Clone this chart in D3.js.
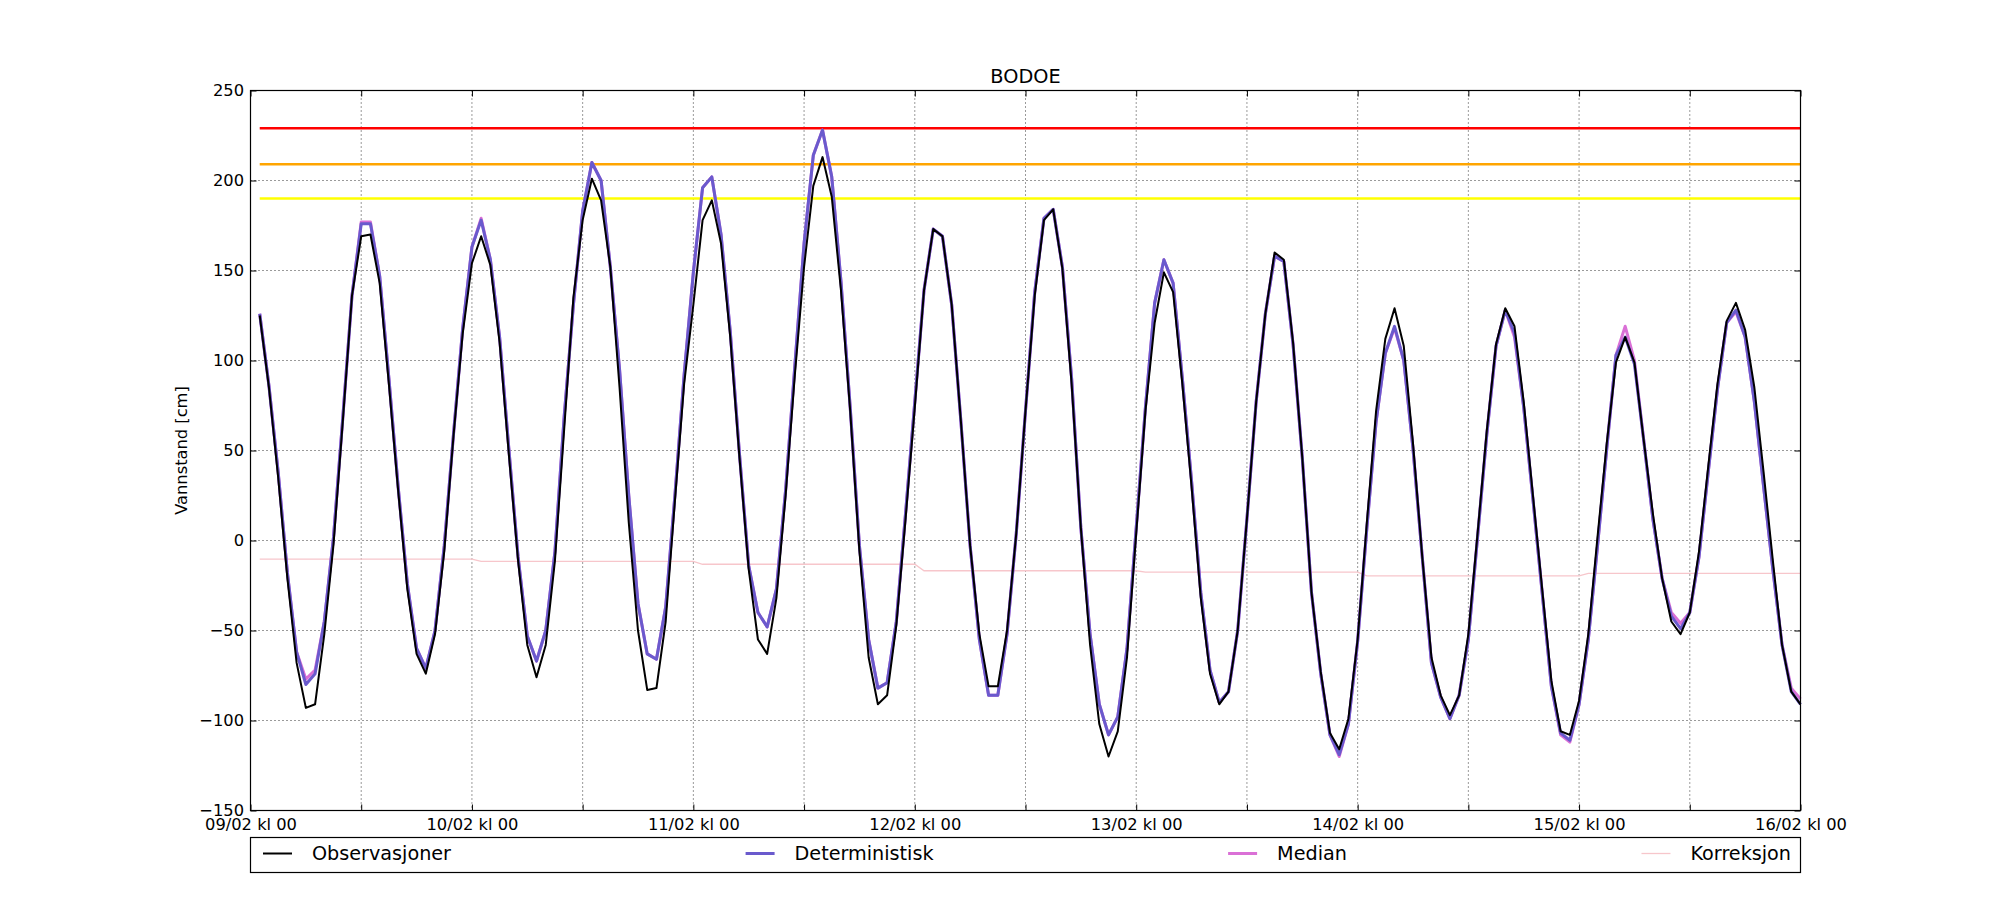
<!DOCTYPE html>
<html>
<head>
<meta charset="utf-8">
<title>BODOE</title>
<script src="https://d3js.org/d3.v7.min.js"></script>
<style>
body{margin:0;background:#fff;}
text{font-family:"DejaVu Sans",sans-serif;fill:#000;}
</style>
</head>
<body>
<svg id="chart" width="2000" height="900"></svg>
<script>

var stasjon = "BODOE";
var ytittel = "Vannstand [cm]";

// timer etter 09/02 kl 00, en verdi per time
var timer = d3.range(1, 169);
var dagLabels = ["09/02 kl 00","10/02 kl 00","11/02 kl 00","12/02 kl 00",
                 "13/02 kl 00","14/02 kl 00","15/02 kl 00","16/02 kl 00"];
var yTicks = [-150,-100,-50,0,50,100,150,200,250];

var observasjoner = [
	125,85,35,-21,-68,-93,-91,-52,-2,66,136,169,170,143,87,28,-27,-63,-74,-52,-6,58,115,154,
	169,153,110,48,-11,-58,-76,-58,-11,62,135,178,201,189,152,85,10,-50,-83,-82,-45,22,87,131,
	178,189,165,113,46,-16,-55,-63,-32,25,92,152,197,213,191,139,72,-6,-65,-91,-86,-47,12,74,
	139,173,169,131,66,-3,-52,-81,-81,-50,4,72,136,178,184,151,87,7,-58,-102,-120,-106,-65,4,
	72,121,149,138,87,30,-32,-74,-91,-84,-50,12,77,126,160,156,110,46,-29,-73,-107,-116,-99,-55,
	10,72,112,129,108,54,-9,-65,-86,-97,-86,-52,4,61,109,129,119,77,25,-27,-78,-106,-108,-89,
	-52,2,54,99,113,99,56,15,-21,-45,-52,-40,-6,41,87,122,132,117,85,38,-11,-58,-84,-91];

var deterministisk = [
	126,86,38,-18,-62,-80,-74,-45,2,68,136,176,176,147,90,30,-24,-60,-71,-50,-3,59,118,163,
	178,156,113,51,-9,-53,-67,-50,-6,69,131,183,210,200,152,95,25,-35,-63,-66,-37,25,92,149,
	196,202,170,116,48,-14,-40,-48,-27,28,97,165,214,228,202,144,74,-3,-55,-82,-79,-45,15,77,
	139,173,169,131,66,-3,-55,-86,-86,-52,4,72,138,179,184,152,90,7,-52,-91,-108,-98,-60,7,
	74,132,156,143,90,33,-29,-72,-90,-84,-50,12,77,126,158,155,109,46,-29,-74,-108,-119,-102,-56,
	7,66,104,119,100,51,-9,-68,-87,-99,-86,-55,2,59,108,128,115,74,23,-29,-81,-107,-111,-91,
	-55,-3,51,103,113,98,56,12,-21,-42,-49,-40,-9,38,84,121,128,113,77,30,-16,-58,-84,-91];

var median = [
	126,86,38,-18,-62,-77,-72,-45,2,68,136,177,177,147,90,30,-24,-60,-71,-50,-3,59,118,163,
	179,156,113,51,-9,-53,-67,-50,-6,69,131,183,210,200,152,95,25,-35,-63,-66,-37,25,92,149,
	196,202,170,116,48,-14,-40,-48,-27,28,97,165,214,228,202,144,74,-3,-55,-82,-79,-45,15,77,
	139,173,169,131,66,-3,-55,-86,-86,-52,4,72,138,179,184,152,90,7,-52,-91,-108,-98,-60,7,
	74,132,156,143,90,33,-29,-72,-90,-84,-50,12,77,126,158,155,109,46,-29,-74,-108,-120,-102,-56,
	7,66,104,118,100,51,-9,-68,-87,-99,-86,-55,2,59,108,128,113,74,23,-29,-81,-108,-112,-91,
	-55,-3,51,103,119,100,56,12,-21,-40,-46,-40,-9,38,84,121,127,113,77,30,-16,-58,-82,-88];

// korreksjon endres bare ved dagsskifte
var korrTimer = [1,24,25,48,49,72,73,96,97,120,121,144,145,168];
var korrVerdier = [-10.3,-10.3,-11.6,-11.6,-13.2,-13.2,-16.8,-16.8,-17.6,-17.6,-19.7,-19.7,-18.3,-18.3];

// varslingsnivaa
var terskler = [229, 209, 190];
var terskelFarger = ["#ff0000", "#ffa500", "#ffff00"];

var svg = d3.select("#chart");
var pLeft = 250.5, pRight = 1800.5, pTop = 90.5, pBottom = 810.5;

var x = d3.scaleLinear().domain([0, 168]).range([pLeft, pRight]);
var y = d3.scaleLinear().domain([-150, 250]).range([pBottom, pTop]);

// grid
var grid = svg.append("g").attr("stroke","#000").attr("stroke-width",0.8).attr("stroke-dasharray","1,3");
grid.selectAll("line.gx").data(d3.range(12, 168, 12)).enter().append("line")
	.attr("x1", function(d){ return x(d); }).attr("x2", function(d){ return x(d); })
	.attr("y1", pTop).attr("y2", pBottom);
grid.selectAll("line.gy").data(yTicks.slice(1, -1)).enter().append("line")
	.attr("y1", function(d){ return y(d); }).attr("y2", function(d){ return y(d); })
	.attr("x1", pLeft).attr("x2", pRight);

var line = d3.line()
	.x(function(d, i){ return x(timer[i]); })
	.y(function(d){ return y(d); });

// korreksjon
svg.append("path")
	.datum(korrVerdier)
	.attr("fill","none").attr("stroke","#f7c6cb").attr("stroke-width",1.3)
	.attr("d", d3.line().x(function(d, i){ return x(korrTimer[i]); }).y(function(d){ return y(d); }));

// terskler
svg.selectAll("line.terskel").data(terskler).enter().append("line")
	.attr("x1", x(timer[0])).attr("x2", x(timer[timer.length-1]))
	.attr("y1", function(d){ return y(d); }).attr("y2", function(d){ return y(d); })
	.attr("stroke", function(d, i){ return terskelFarger[i]; })
	.attr("stroke-width", 2.6);

svg.append("path").datum(median)
	.attr("fill","none").attr("stroke","#da70d6").attr("stroke-width",3).attr("stroke-linejoin","round")
	.attr("d", line);
svg.append("path").datum(deterministisk)
	.attr("fill","none").attr("stroke","#6a5acd").attr("stroke-width",3).attr("stroke-linejoin","round")
	.attr("d", line);
svg.append("path").datum(observasjoner)
	.attr("fill","none").attr("stroke","#000").attr("stroke-width",2).attr("stroke-linejoin","round")
	.attr("d", line);

// akser, ticks inn i plottet
var xAxis = d3.axisBottom(x).tickValues(d3.range(0, 169, 12))
	.tickSizeInner(-6).tickSizeOuter(0).tickPadding(7.5)
	.tickFormat(function(d){ return d % 24 == 0 ? dagLabels[d/24] : ""; });
var gx = svg.append("g").attr("transform","translate(0," + pBottom + ")").call(xAxis);

var gxt = svg.append("g").attr("transform","translate(0," + pTop + ")")
	.call(d3.axisTop(x).tickValues(d3.range(0, 169, 12)).tickSizeInner(-6).tickSizeOuter(0).tickFormat(""));

var yAxis = d3.axisLeft(y).tickValues(yTicks).tickSizeInner(-6).tickSizeOuter(0).tickPadding(6.5)
	.tickFormat(function(d){ return d < 0 ? "\u2212" + Math.abs(d) : d; });
var gy = svg.append("g").attr("transform","translate(" + pLeft + ",0)").call(yAxis);

var gyr = svg.append("g").attr("transform","translate(" + pRight + ",0)")
	.call(d3.axisRight(y).tickValues(yTicks).tickSizeInner(-6).tickSizeOuter(0).tickFormat(""));

[gx, gxt, gy, gyr].forEach(function(g){
	g.select(".domain").remove();
	g.attr("font-family", null).attr("font-size", null);
	g.selectAll(".tick line").attr("stroke","#000").attr("stroke-width",1);
	g.selectAll("text").style("font-size","16.3px");
});

svg.append("rect").attr("x", pLeft).attr("y", pTop)
	.attr("width", pRight - pLeft).attr("height", pBottom - pTop)
	.attr("fill","none").attr("stroke","#000").attr("stroke-width",1.2);

svg.append("text").attr("x", (pLeft + pRight)/2).attr("y", 82.7)
	.attr("text-anchor","middle").style("font-size","19.3px").text(stasjon);

svg.append("text").attr("transform","translate(187," + ((pTop + pBottom)/2) + ") rotate(-90)")
	.attr("text-anchor","middle").style("font-size","16.3px").text(ytittel);

// legend, fire kolonner strukket over hele bredden
var legendNavn = ["Observasjoner","Deterministisk","Median","Korreksjon"];
var legendFarger = ["#000","#6a5acd","#da70d6","#f7c6cb"];
var legendBredde = [2, 3, 3, 1.3];

svg.append("rect").attr("x", pLeft).attr("y", 837.5).attr("width", pRight - pLeft).attr("height", 35)
	.attr("fill","#fff").attr("stroke","#000").attr("stroke-width",1.2);

var lg = svg.append("g");
var items = lg.selectAll("g").data(legendNavn).enter().append("g");
items.append("line").attr("x1",0).attr("x2",29).attr("y1",853.5).attr("y2",853.5)
	.attr("stroke", function(d, i){ return legendFarger[i]; })
	.attr("stroke-width", function(d, i){ return legendBredde[i]; });
items.append("text").attr("x",49).attr("y",859.5).style("font-size","19.2px").text(function(d){ return d; });

var bredder = [];
items.selectAll("text").each(function(){ bredder.push(49 + this.getComputedTextLength()); });
var start = pLeft + 12.5, slutt = pRight - 9.5;
var mellom = (slutt - start - d3.sum(bredder)) / (bredder.length - 1);
var pos = start;
items.attr("transform", function(d, i){
	var t = "translate(" + pos + ",0)";
	pos += bredder[i] + mellom;
	return t;
});

</script>
</body>
</html>
